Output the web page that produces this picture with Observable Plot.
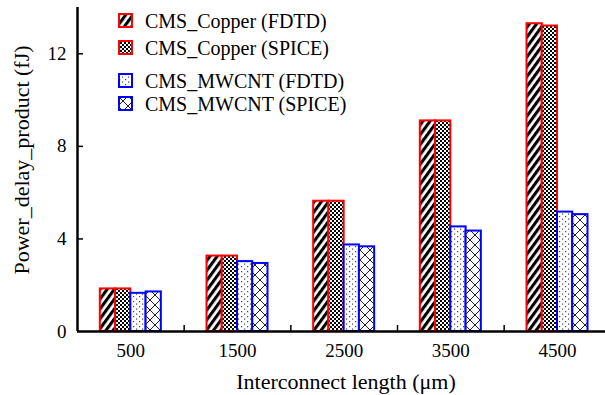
<!DOCTYPE html>
<html><head><meta charset="utf-8">
<style>
html,body{margin:0;padding:0;background:#fff;}
#wrap{position:relative;width:605px;height:395px;overflow:hidden;color:#000;font-family:'Liberation Serif','Times New Roman',Tinos,'DejaVu Serif',serif;}
.lg{position:absolute;left:118px;height:15px;display:flex;align-items:center;font-size:20px;line-height:20px;white-space:nowrap;}
.lg svg{flex:none;margin-right:12px;}
.ytitle{position:absolute;left:22px;top:160px;transform:translate(-50%,-50%) rotate(-90deg);font-size:22px;line-height:22px;white-space:nowrap;z-index:2;}
.xtitle{position:absolute;left:346px;top:371px;transform:translateX(-50%);font-size:22px;line-height:22px;white-space:nowrap;z-index:2;}
</style>
</head><body>
<div id="wrap">
<div class="ytitle">Power_delay_product (fJ)</div>
<div class="xtitle">Interconnect length (μm)</div>
</div>
<svg width="0" height="0" style="position:absolute;left:0;top:0">
<defs>
<pattern id="pStripe" patternUnits="userSpaceOnUse" width="5.8" height="10" patternTransform="rotate(36)">
<rect x="0" y="0" width="5.8" height="10" fill="#fff"/>
<rect x="0" y="0" width="3.1" height="10" fill="#000"/>
</pattern>
<pattern id="pCheck" patternUnits="userSpaceOnUse" width="4" height="4">
<rect x="0" y="0" width="4" height="4" fill="#fff"/>
<rect x="0" y="0" width="2" height="2" fill="#000"/>
<rect x="2" y="2" width="2" height="2" fill="#000"/>
</pattern>
<pattern id="pDots" patternUnits="userSpaceOnUse" width="6" height="5">
<rect x="0" y="0" width="6" height="5" fill="#fff"/>
<rect x="1" y="1" width="1.2" height="1.2" fill="#444"/>
<rect x="4" y="3.5" width="1.2" height="1.2" fill="#444"/>
</pattern>
<pattern id="pCross" patternUnits="userSpaceOnUse" width="10" height="10">
<rect x="0" y="0" width="10" height="10" fill="#fff"/>
<path d="M0,0L10,10M10,0L0,10" stroke="#222" stroke-width="1"/>
</pattern>
</defs>
</svg>
<script src="https://cdn.jsdelivr.net/npm/d3@7"></script>
<script src="https://cdn.jsdelivr.net/npm/@observablehq/plot@0.6"></script>
<script>
const lengths = [500, 1500, 2500, 3500, 4500];
const seriesNames = ["CMS_Copper (FDTD)", "CMS_Copper (SPICE)", "CMS_MWCNT (FDTD)", "CMS_MWCNT (SPICE)"];
const copperFDTD  = [1.84, 3.26, 5.63, 9.10, 13.30];
const copperSPICE = [1.84, 3.26, 5.63, 9.10, 13.20];
const mwcntFDTD   = [1.65, 3.02, 3.74, 4.52, 5.16];
const mwcntSPICE  = [1.71, 2.94, 3.66, 4.34, 5.05];
const yTicks = [0, 4, 8, 12];
const minorXTicks = [1000, 2000, 3000, 4000];

const seriesValues = [copperFDTD, copperSPICE, mwcntFDTD, mwcntSPICE];
const seriesFill = ["url(#pStripe)", "url(#pCheck)", "url(#pDots)", "url(#pCross)"];
const seriesStroke = ["#ff0000", "#ff0000", "#0000ff", "#0000ff"];

const barW = 143; // bar width in x units
const rows = seriesValues.map((vals, k) => vals.map((v, i) => ({
  series: seriesNames[k], k, length: lengths[i], value: v,
  x1: lengths[i] - 2 * barW + k * barW, x2: lengths[i] - 2 * barW + (k + 1) * barW
})));

const fontStack = "'Liberation Serif','Times New Roman',Tinos,'DejaVu Serif',serif";
const chart = Plot.plot({
  width: 605, height: 395,
  marginLeft: 77, marginRight: 0, marginTop: 7, marginBottom: 64,
  x: {domain: [0, 4950]},
  y: {domain: [0, 14]},
  style: {fontFamily: fontStack, fontSize: "19px", background: "white", color: "black"},
  marks: [
    ...rows.map((r, k) => Plot.rect(r, {x1: "x1", x2: "x2", y1: 0, y2: "value", fill: seriesFill[k], stroke: seriesStroke[k], strokeWidth: 2})),
    Plot.ruleY([0], {strokeWidth: 2.5}),
    Plot.ruleX([0], {strokeWidth: 2.5}),
    Plot.tickY(yTicks.slice(1), {y: d => d, insetRight: 522, strokeWidth: 1.5}),
    Plot.tickX(minorXTicks, {x: d => d, insetTop: 318, strokeWidth: 1.5}),
    Plot.axisX(lengths, {tickSize: 0, tickPadding: 12, label: null, tickFormat: d => String(d), fontSize: 19}),
    Plot.axisY(yTicks, {tickSize: 0, tickPadding: 11, label: null, tickFormat: d => String(d), fontSize: 19})
  ]
});
chart.style.position = "absolute";
chart.style.left = "0px";
chart.style.top = "0px";
const wrap = document.getElementById("wrap");
wrap.insertBefore(chart, wrap.firstChild);

const legendTops = [13, 40, 73, 96];
seriesNames.forEach((name, k) => {
  const row = document.createElement("div");
  row.className = "lg";
  row.style.top = legendTops[k] + "px";
  row.innerHTML = `<svg width="15" height="15"><rect x="1" y="1" width="13" height="13" fill="${seriesFill[k]}" stroke="${seriesStroke[k]}" stroke-width="2"/></svg><span>${name}</span>`;
  wrap.appendChild(row);
});
</script>
</body></html>
